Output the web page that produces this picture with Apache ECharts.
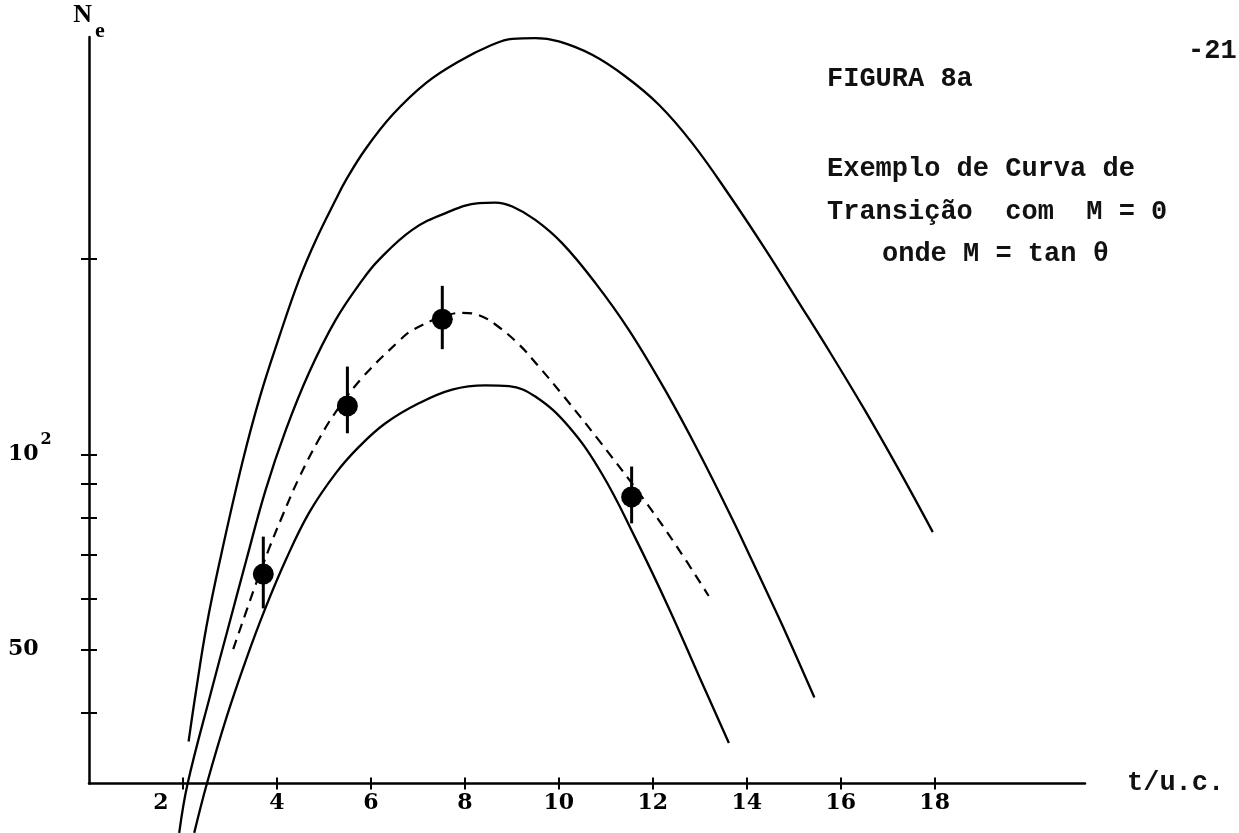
<!DOCTYPE html>
<html>
<head>
<meta charset="utf-8">
<script src="https://cdn.jsdelivr.net/npm/echarts@6/dist/echarts.min.js"></script>
<style>
    html, body { margin: 0; padding: 0; background: #fff; }
    #chart { width: 1239px; height: 833px; }
</style>
</head>
<body>
<div id="chart"></div>
<script>
// ticks do eixo t (u.c.) e do eixo N_e (log)
var tTicks = [2, 4, 6, 8, 10, 12, 14, 16, 18];
var nTicks = [40, 50, 60, 70, 80, 90, 100, 200];
var nLabels = [50, 100];

// curvas de transicao [t, Ne]
var curveUpper = [[2.12, 36.1], [2.27, 42.8], [2.50, 54.3], [2.79, 68.8], [3.26, 96.9], [3.64, 122.8],
    [4.05, 151.9], [4.47, 185.8], [4.83, 214.1], [5.25, 246.9], [5.46, 264.1], [5.89, 295.9], [6.46, 333.8],
    [7.17, 373.6], [7.87, 403.4], [8.58, 428.0], [9.01, 437.2], [9.50, 438.3], [10.00, 433.1], [10.71, 413.0],
    [11.42, 382.4], [12.13, 345.9], [12.84, 301.9], [13.62, 251.6], [14.40, 206.9], [15.10, 171.9],
    [15.81, 142.2], [16.52, 116.8], [17.23, 94.9], [17.96, 75.9]];
var curveMiddle = [[1.92, 26.1], [2.10, 31.1], [2.59, 42.8], [2.97, 54.3], [3.35, 68.8], [3.76, 88.2], [4.19, 109.1],
    [4.68, 133.5], [5.25, 161.2], [5.82, 185.8], [6.17, 199.5], [6.88, 221.9], [7.59, 235.5], [8.30, 244.0],
    [8.65, 244.5], [9.01, 241.1], [9.50, 229.9], [10.07, 211.7], [10.78, 183.7], [11.49, 155.6], [12.27, 125.4],
    [12.98, 100.8], [13.69, 79.6], [14.11, 68.7], [14.50, 59.8], [14.82, 53.3], [15.44, 42.2]];
var curveLower = [[2.24, 26.1], [2.51, 31.1], [2.93, 39.4], [3.34, 48.2], [3.74, 57.6], [4.19, 68.8], [4.68, 81.2],
    [5.25, 93.5], [5.75, 102.8], [6.31, 111.7], [7.02, 119.9], [7.73, 125.9], [8.44, 127.8], [8.94, 127.4],
    [9.50, 122.8], [10.21, 110.4], [10.92, 93.3], [11.63, 74.3], [12.34, 58.0], [12.98, 45.6], [13.62, 35.9]];
var curveDashed = [[3.07, 50.1], [3.51, 61.9], [3.83, 71.5], [4.12, 80.5], [4.47, 92.0], [4.90, 105.7], [5.25, 116.2],
    [5.82, 131.4], [6.60, 149.6], [6.88, 155.4], [7.52, 163.0], [7.94, 165.3], [8.30, 163.9], [8.65, 158.6],
    [9.15, 147.8], [9.57, 136.7], [10.07, 123.8], [10.85, 105.2], [11.77, 86.0], [12.48, 72.7], [13.19, 60.5]];

// pontos experimentais e barras de erro
var pointT = [3.71, 5.50, 7.52, 11.55];
var pointN = [65.4, 118.8, 161.6, 86.0];
var errLow = [57.9, 107.8, 145.3, 78.3];
var errHigh = [74.7, 136.6, 181.9, 95.8];

var myChart = echarts.init(document.getElementById('chart'));

var numFont = { fontFamily: 'DejaVu Serif', fontWeight: 'bold', fontSize: 22, color: '#000' };
var typeFont = { fontFamily: 'Liberation Mono', fontWeight: 'bold', fontSize: 27, lineHeight: 27, color: '#111' };
var tMax = 21.2, nMin = 31.1, nMax = 440;

var scatterData = pointT.map(function (t, i) { return [t, pointN[i]]; });
var errData = pointT.map(function (t, i) { return [t, errLow[i], errHigh[i]]; });

function curve(data, dashed) {
    return {
        type: 'line',
        data: data,
        smooth: 0.4,
        showSymbol: false,
        clip: false,
        lineStyle: { color: '#000', width: dashed ? 2.2 : 2.3, type: dashed ? [10, 7] : 'solid' }
    };
}

var option = {
    animation: false,
    backgroundColor: '#fff',
    title: [
        { text: 'FIGURA 8a', left: 827, top: 66, padding: 0, textStyle: typeFont },
        { text: '-21-', left: 1188, top: 38, padding: 0, textStyle: typeFont },
        { text: 'Exemplo de Curva de', left: 827, top: 156, padding: 0, textStyle: typeFont },
        { text: 'Transição  com  M = 0', left: 827, top: 199, padding: 0, textStyle: typeFont },
        { text: 'onde M = tan θ', left: 882, top: 241, padding: 0, textStyle: typeFont }
    ],
    grid: { left: 89, right: 154, top: 37, bottom: 49.5 },
    xAxis: [
        {
            type: 'value', min: 0, max: tMax, position: 'bottom',
            axisLine: { lineStyle: { color: '#000', width: 2.5 } },
            axisTick: { customValues: tTicks, length: 6, lineStyle: { color: '#000', width: 2 } },
            axisLabel: {
                customValues: tTicks, margin: 9,
                formatter: function (v) { return v === 2 ? '{l|2}' : '{d|' + v + '}'; },
                rich: {
                    l: Object.assign({ padding: [0, 44, 0, 0] }, numFont),
                    d: numFont
                }
            },
            splitLine: { show: false },
            name: 't/u.c.', nameLocation: 'end', nameGap: 42,
            nameTextStyle: Object.assign({ padding: [10, 0, 0, 0] }, typeFont)
        },
        {
            type: 'value', min: 0, max: tMax, position: 'bottom',
            axisLine: { show: false },
            axisTick: { inside: true, customValues: tTicks, length: 6, lineStyle: { color: '#000', width: 2 } },
            axisLabel: { show: false },
            splitLine: { show: false }
        }
    ],
    yAxis: [
        {
            type: 'log', logBase: 10, min: nMin, max: nMax, position: 'left',
            axisLine: { lineStyle: { color: '#000', width: 2.5 } },
            axisTick: { customValues: nTicks, length: 8, lineStyle: { color: '#000', width: 2 } },
            minorTick: { show: false },
            axisLabel: {
                customValues: nLabels, align: 'left', margin: 81,
                formatter: function (v) {
                    return Math.round(v) === 100 ? '{n|10}{s|2}' : '{n|' + Math.round(v) + '}';
                },
                rich: {
                    n: Object.assign({ lineHeight: 46 }, numFont),
                    s: { fontFamily: 'DejaVu Serif', fontWeight: 'bold', fontSize: 16, lineHeight: 16,
                        verticalAlign: 'top', color: '#000', padding: [0, 0, 0, 2] }
                }
            },
            splitLine: { show: false },
            name: '{n|N}{e|e}', nameLocation: 'end', nameGap: 11,
            nameTextStyle: {
                rich: {
                    n: { fontFamily: 'Liberation Serif', fontWeight: 'bold', fontSize: 26, lineHeight: 24,
                        verticalAlign: 'top', color: '#000' },
                    e: { fontFamily: 'Liberation Serif', fontWeight: 'bold', fontSize: 22, lineHeight: 20,
                        verticalAlign: 'top', padding: [18, 0, 0, 3], color: '#000' }
                }
            }
        },
        {
            type: 'log', logBase: 10, min: nMin, max: nMax, position: 'left',
            axisLine: { show: false },
            axisTick: { inside: true, customValues: nTicks, length: 8, lineStyle: { color: '#000', width: 2 } },
            minorTick: { show: false },
            axisLabel: { show: false },
            splitLine: { show: false }
        }
    ],
    series: [
        curve(curveUpper, false),
        curve(curveMiddle, false),
        curve(curveLower, false),
        curve(curveDashed, true),
        {
            type: 'custom',
            data: errData,
            renderItem: function (params, api) {
                var a = api.coord([api.value(0), api.value(1)]);
                var b = api.coord([api.value(0), api.value(2)]);
                return {
                    type: 'line',
                    shape: { x1: a[0], y1: a[1], x2: b[0], y2: b[1] },
                    style: { stroke: '#000', lineWidth: 3 }
                };
            },
            z: 5
        },
        {
            type: 'scatter',
            data: scatterData,
            symbol: 'circle',
            symbolSize: 21,
            itemStyle: { color: '#000', opacity: 1 },
            z: 6
        }
    ]
};

myChart.setOption(option);

window.addEventListener('resize', function () {
    myChart.resize();
});
</script>
</body>
</html>
